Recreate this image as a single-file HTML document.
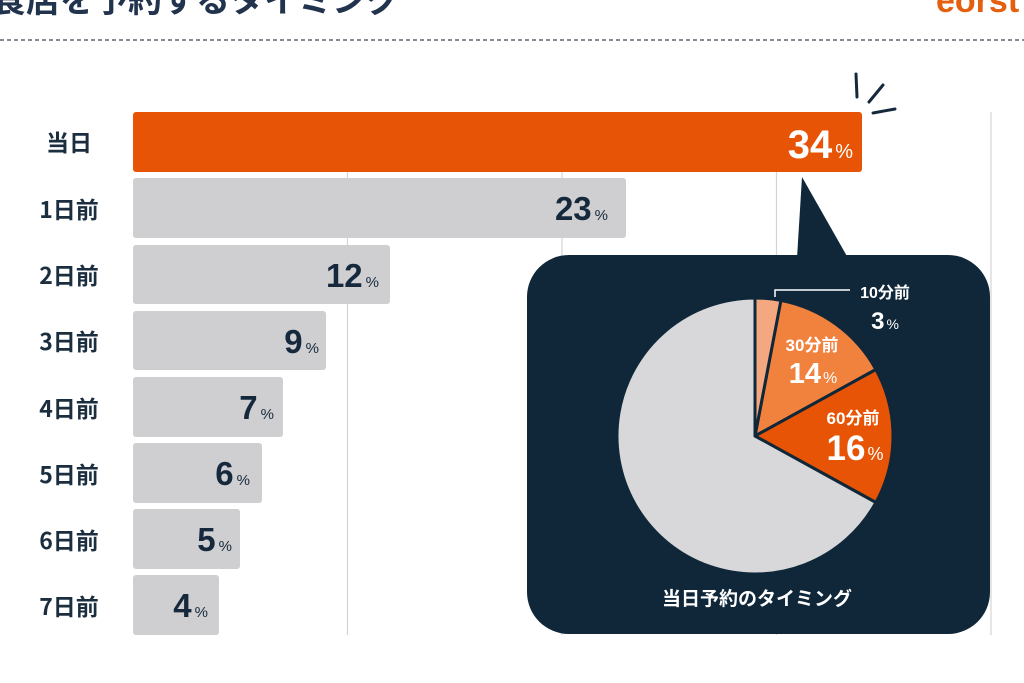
<!DOCTYPE html>
<html><head><meta charset="utf-8"><style>
html,body{margin:0;padding:0;background:#fff;width:1024px;height:683px;overflow:hidden}
svg{display:block}
text{font-family:"Liberation Sans","Noto Sans CJK JP",sans-serif;font-weight:bold}
.j{font-family:"Noto Sans CJK JP",sans-serif}
</style></head><body>
<svg width="1024" height="683" viewBox="0 0 1024 683">
<text x="-8" y="12" font-size="34" fill="#22334d" font-weight="normal">食店を予約するタイミング</text>
<text x="936" y="12" font-size="34" fill="#e4600e">eorst</text>
<line x1="0" y1="40" x2="1024" y2="40" stroke="#3a4654" stroke-width="1.2" stroke-dasharray="4,3"/>
<g stroke="#d4d4d6" stroke-width="1.2">
<line x1="347.5" y1="112" x2="347.5" y2="635"/><line x1="562" y1="112" x2="562" y2="635"/>
<line x1="776.5" y1="112" x2="776.5" y2="635"/><line x1="991" y1="112" x2="991" y2="635"/>
</g>
<g fill="#cfcfd1">
<rect x="133" y="178" width="493" height="60" rx="3"/>
<rect x="133" y="245" width="257" height="59" rx="3"/>
<rect x="133" y="311" width="193" height="59" rx="3"/>
<rect x="133" y="377" width="150" height="60" rx="3"/>
<rect x="133" y="443" width="129" height="60" rx="3"/>
<rect x="133" y="509" width="107" height="60" rx="3"/>
<rect x="133" y="575" width="86" height="60" rx="3"/>
</g>
<rect x="133" y="112" width="729" height="60" rx="3" fill="#e75405"/>
<g font-size="23" fill="#1b2e40" text-anchor="middle" class="j" font-weight="bold">
<text class="j" x="69" y="151">当日</text><text class="j" x="69" y="218">1日前</text><text class="j" x="69" y="284">2日前</text>
<text class="j" x="69" y="350">3日前</text><text class="j" x="69" y="417">4日前</text><text class="j" x="69" y="483">5日前</text>
<text class="j" x="69" y="549">6日前</text><text class="j" x="69" y="615">7日前</text>
</g>
<g fill="#16293c" text-anchor="end">
<text x="608" y="220" font-size="33">23<tspan font-size="15" font-weight="normal" dx="3">%</tspan></text>
<text x="379" y="287" font-size="33">12<tspan font-size="15" font-weight="normal" dx="3">%</tspan></text>
<text x="319" y="353" font-size="33">9<tspan font-size="15" font-weight="normal" dx="3">%</tspan></text>
<text x="274" y="419" font-size="33">7<tspan font-size="15" font-weight="normal" dx="3">%</tspan></text>
<text x="250" y="485" font-size="33">6<tspan font-size="15" font-weight="normal" dx="3">%</tspan></text>
<text x="232" y="551" font-size="33">5<tspan font-size="15" font-weight="normal" dx="3">%</tspan></text>
<text x="208" y="617" font-size="33">4<tspan font-size="15" font-weight="normal" dx="3">%</tspan></text>
</g>
<text x="853" y="158" font-size="40" fill="#fff" text-anchor="end">34<tspan font-size="20" font-weight="normal" dx="3">%</tspan></text>
<g stroke="#16293c" stroke-width="3" stroke-linecap="round">
<line x1="856" y1="74" x2="857" y2="97"/><line x1="869" y1="102" x2="883" y2="85"/><line x1="873" y1="113" x2="895" y2="109"/>
</g>
<polygon points="802,177 797,258 848,258" fill="#0f2739"/>
<rect x="527" y="255" width="463" height="379" rx="42" fill="#0f2739"/>
<g stroke="#0f2739" stroke-width="3" stroke-linejoin="round">
<path d="M755,436 L780.9,300.4 A138,138 0 0 1 875.9,369.5 Z" fill="#f0823e"/>
<path d="M755,436 L875.9,369.5 A138,138 0 0 1 875.9,502.5 Z" fill="#e75405"/>
<path d="M755,436 L875.9,502.5 A138,138 0 1 1 755,298 Z" fill="#d8d8da"/>
<path d="M755,436 L755,298 A138,138 0 0 1 780.9,300.4 Z" fill="#f4a880"/>
</g>
<polyline points="775,297 775,290 850,290" fill="none" stroke="#fff" stroke-width="1.5"/>
<g fill="#fff" text-anchor="middle">
<text x="885" y="298" font-size="16">10分前</text>
<text x="885" y="329" font-size="24">3<tspan font-size="14" font-weight="normal" dx="2">%</tspan></text>
<text x="812" y="351" font-size="17">30分前</text>
<text x="813" y="383" font-size="29">14<tspan font-size="16" font-weight="normal" dx="2">%</tspan></text>
<text x="853" y="424" font-size="17">60分前</text>
<text x="855" y="460" font-size="35">16<tspan font-size="18" font-weight="normal" dx="2">%</tspan></text>
<text class="j" x="757" y="605" font-size="19">当日予約のタイミング</text>
</g>
</svg>
</body></html>
